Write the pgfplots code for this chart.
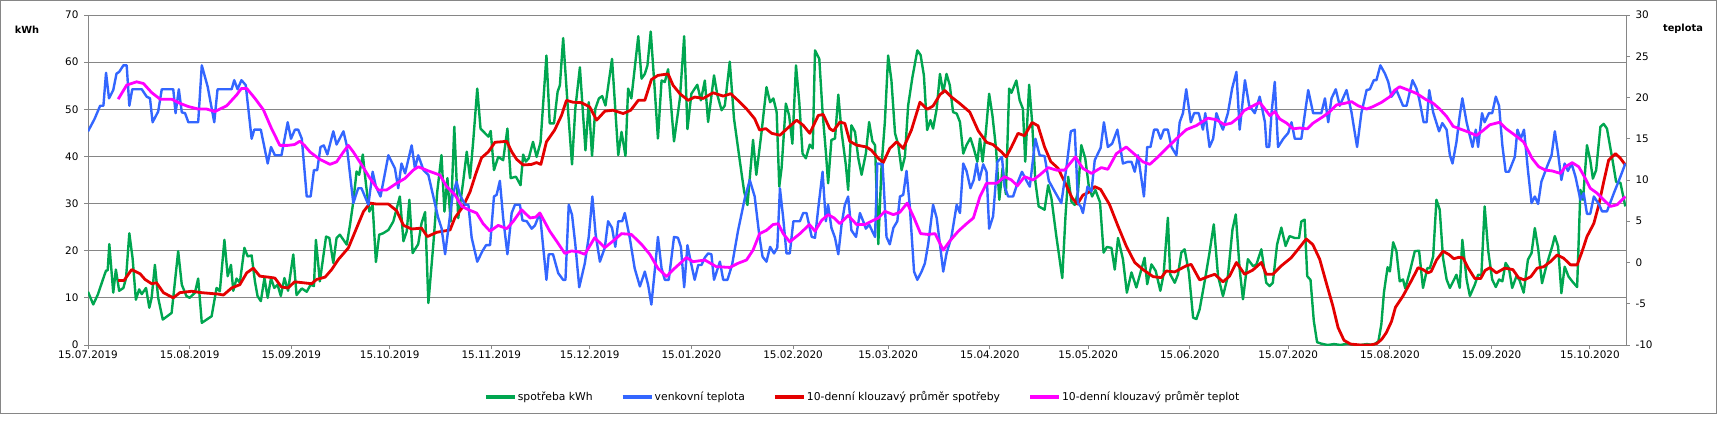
\documentclass[border=0pt]{standalone}
\usepackage{fontspec}
\setmainfont{DejaVu Sans}
\usepackage{pgfplots}
\pgfplotsset{compat=1.18}
\definecolor{cgreen}{RGB}{0,166,80}
\definecolor{cblue}{RGB}{51,102,255}
\definecolor{cred}{RGB}{228,0,0}
\definecolor{cmag}{RGB}{255,0,255}
\definecolor{cgrid}{RGB}{134,134,134}
\begin{document}
\begin{tikzpicture}
\useasboundingbox (0pt,0pt) rectangle (1719pt,421pt);
\draw[cgrid, line width=1pt] (0.5pt,7.5pt) rectangle (1716pt,420.5pt);
\node[font=\bfseries\fontsize{9.8}{12}\selectfont] at (27pt,391pt) {kWh};
\node[font=\bfseries\fontsize{9.8}{12}\selectfont] at (1683pt,392pt) {teplota};
\begin{axis}[
  at={(88pt,76pt)}, anchor=south west, scale only axis,
  width=1538pt, height=330pt,
  xmin=0, xmax=469, ymin=0, ymax=70,
  ytick={0,10,...,70},
  xtick={0,31,62,92,123,153,184,215,244,275,305,336,366,397,428,458},
  xticklabels={15.07.2019,15.08.2019,15.09.2019,15.10.2019,15.11.2019,15.12.2019,15.01.2020,15.02.2020,15.03.2020,15.04.2020,15.05.2020,15.06.2020,15.07.2020,15.08.2020,15.09.2020,15.10.2020},
  ymajorgrids, grid style={cgrid, line width=0.9pt},
  axis line style={cgrid, line width=0.9pt},
  tick style={cgrid, line width=0.9pt},
  major tick length=4pt, tick align=outside,
  xtick pos=bottom, ytick pos=left,
  tick label style={font=\fontsize{10.4}{12}\selectfont},
  yticklabel style={xshift=-2pt},
  xticklabel style={yshift=2pt},
  /pgf/number format/assume math mode=true,
  line join=round,
]
\addplot[cgreen, line width=2.4pt] coordinates {
(0,11.3) (1.6,8.6) (3,10.7) (4.7,14.2) (5.5,15.8) (6,15.8) (6.5,21.4) (7.7,11.1) (8.5,16) (9.5,11.5) (10.8,12.1) (11.6,14.2) (12.6,23.7) (13.6,18.4) (14.6,9.6) (15.6,11.8) (16.4,10.8) (17.7,12.1) (18.7,7.9) (19.4,10) (20.4,17) (21.4,10) (22.8,5.4) (25.5,6.8) (27.5,19.9) (28.6,12.8) (30,10.4) (31,10) (32.6,11.1) (33.6,14.1) (34.7,4.7) (37.7,6.1) (39.2,12.1) (40.2,11.4) (41.6,22.3) (42.6,14.6) (43.6,17) (44.3,11.5) (45.3,14.1) (46.3,13.2) (47.7,20.6) (48.7,18.8) (49.9,19) (50.9,13.5) (51.7,10.4) (52.7,9.3) (53.8,14.2) (54.8,10) (55.8,14.2) (56.8,12.1) (57.8,12.8) (58.8,10.4) (59.9,14.2) (61,11.5) (62.6,19.2) (63.6,10.6) (65.2,12) (66.7,11.3) (67.9,12.8) (68.9,12.5) (69.5,22.3) (70.7,13.5) (72.6,23) (73.6,22.7) (74.8,17.4) (75.8,22.7) (76.8,23.4) (78.9,21.3) (79.9,25.5) (80.9,30.4) (81.9,36.8) (82.7,36.1) (83.8,40.4) (84.8,33.9) (85.8,28.3) (86.8,29.7) (87.8,17.6) (88.8,23.4) (90,23.7) (91.6,24.4) (93.1,26.2) (95.1,31.5) (96.2,22) (97.2,24.1) (98,30.8) (99,19.5) (100.7,21.4) (101.7,25.8) (102.8,28.2) (103.8,8.9) (105.3,21.3) (106.5,32.5) (107.8,40.3) (108.7,28.3) (109.6,35.4) (110.6,26.2) (111.7,46.3) (112.9,26.9) (114.4,34.6) (115.5,41) (116.5,35.4) (117.5,43.5) (118.7,54.4) (119.7,45.9) (121.1,44.9) (122.1,44.2) (122.8,45.4) (123.8,37.1) (125.1,39.9) (126.6,39.2) (127.9,45.9) (128.9,35.4) (130.5,35.7) (131.9,33.9) (132.7,40.4) (133.5,38.9) (134.4,39.6) (135.7,43.1) (136.8,39.9) (138,43) (139.8,61.4) (140.8,47) (142.1,47) (143.2,53.7) (143.9,55.1) (144.9,65.1) (146.2,51.5) (147.6,38.3) (148.6,50.1) (150,58.9) (151.7,41.3) (152.7,51.5) (153.7,40.1) (154.7,50.1) (155.8,52.3) (156.8,52.8) (157.8,50.8) (159.8,60.7) (161.7,40.3) (162.7,45.2) (163.9,40.1) (164.7,54.4) (165.7,52.3) (167.8,65.5) (168.8,56.5) (169.8,57.5) (170.6,59.3) (171.6,66.5) (172.8,54.4) (173.8,43.8) (174.9,56.1) (175.9,55.8) (176.9,58.5) (178.7,43.2) (180.5,52.3) (181.8,65.5) (182.8,45.8) (184,53.3) (185.8,55.2) (186.9,51.9) (188.1,56.1) (189.1,47.3) (190.9,57.2) (191.9,53.1) (193.2,49.8) (194.2,50.8) (195.7,60.1) (197,48) (198.8,38.9) (200.1,32.5) (201.1,29.7) (201.8,35.4) (202.8,43.5) (203.8,36.1) (205.4,45.2) (206.9,54.7) (208,51.5) (209,52.3) (210,49.4) (210.8,33.6) (211.5,37.5) (212.8,51.2) (213.8,48.7) (214.8,42.7) (215.9,59.3) (216.9,51.5) (217.9,40.6) (218.9,39.6) (220.1,42.5) (221,41.7) (221.7,62.5) (223,60.7) (224,49.4) (225,41) (225.7,34.3) (226.7,43.5) (227.8,43.8) (228.8,53.1) (229.8,45.2) (231.1,38.2) (231.8,32.9) (232.8,46.6) (233.9,45.2) (234.9,39.6) (235.9,36.1) (237.2,40.6) (238.2,47.3) (239.2,43.2) (240,42.4) (241,21.4) (242,38.2) (243,47.3) (244,61.4) (245,56.1) (246.1,44.9) (247.1,42.4) (248.1,37.1) (249.1,39.9) (250.1,50.8) (251.4,56.8) (252.9,62.5) (253.9,61.5) (254.9,57.2) (255.9,45.6) (256.9,47.7) (257.7,45.9) (258.8,50.1) (259.8,57.5) (260.8,53.5) (261.8,57.5) (262.8,55.1) (263.8,49.4) (264.9,49.1) (265.9,47.3) (266.9,40.6) (267.9,42.4) (269.1,43.9) (270.1,41.7) (271.2,38.9) (272,43.8) (272.8,38.9) (273.8,45.2) (274.8,53.3) (275.8,48.7) (276.9,41.7) (277.9,30.8) (278.9,37.5) (279.9,32) (280.9,54.4) (281.6,53.5) (283.1,56.1) (284.1,51.9) (285.1,50.1) (285.8,38.9) (287,55.2) (287.9,47.3) (288.9,34.6) (289.9,29.4) (291.7,28.7) (292.8,33.9) (293.8,31.1) (295.3,23) (297.1,14.2) (298.1,27.6) (298.9,35.7) (299.9,30.4) (300.9,29.7) (301.9,32.5) (302.9,42.4) (304.1,39.6) (305.2,33.6) (306.2,31.5) (307.2,32.9) (308.6,30.3) (309.7,19.6) (310.7,20.8) (312.1,20.6) (313.1,16) (314.1,22.7) (315.6,18.2) (316.8,11.1) (318.2,15.4) (319.7,12.2) (321.2,16) (322.2,18.5) (323,12.9) (324.3,17.1) (325.6,15.7) (327,11.5) (328,15) (329.3,27) (330,15) (331.4,13.2) (332.4,15) (333.4,19.6) (334.4,20.3) (335.7,15.4) (337,5.8) (338,5.5) (339,7.6) (340.8,14.6) (342,19.6) (343.3,25.6) (344.6,14.6) (346.1,10.4) (347.6,14.6) (349,24.5) (350,27.7) (351.2,16) (352.2,9.7) (353.7,18.2) (355.3,16.7) (356.3,17.1) (357.8,20.3) (359.3,13.2) (360.3,12.5) (361.3,13.2) (362.6,21.3) (363.9,24.9) (365.2,21) (366.4,23.1) (368,22.7) (369.3,22.7) (370,26.2) (371,26.6) (371.8,14.6) (372.8,13.8) (373.8,5.1) (374.8,0.6) (376,0.3) (378,0) (380,0.2) (382,0) (384,0.3) (386,0) (388,0) (390,0.2) (392,0) (393.5,0.8) (394.4,4.4) (395.2,11.2) (396.3,16.5) (397,15.6) (398,21.8) (399,19.9) (400,13.5) (401,13.9) (401.7,12) (403.1,15.6) (404.6,19.9) (405.9,20) (407.1,12.1) (408.4,16.3) (409.2,16.3) (410.2,18.8) (411.2,30.8) (412.2,28.7) (413.2,18.5) (414.3,13.9) (415.3,12.1) (416.3,13.5) (417.3,14.9) (418.3,12.1) (419.1,22.3) (420.4,13.9) (421.4,10.4) (422.9,12.8) (423.9,14.9) (424.9,14.8) (425.9,29.4) (427,19.9) (428.2,13.9) (429.3,12.3) (430.3,13.9) (431.3,13.5) (432.3,17.4) (433.3,16.3) (434.3,12.1) (435.6,14.6) (436.5,13.8) (437.8,11.1) (439.1,18.1) (440.2,19.5) (441.2,24.8) (442.2,20.5) (443.4,13.1) (444.4,15.9) (445.4,18.4) (446.5,20.9) (447.3,23.1) (448.3,20.9) (449.3,11) (450.3,16.6) (451.5,14.5) (452.6,13.5) (454.1,12.3) (455.1,32.9) (455.9,30.8) (457.1,42.4) (458.1,39.2) (458.9,35.3) (459.9,37.1) (461.2,46.3) (462.2,46.9) (463.2,45.9) (464.8,39.6) (466,34.6) (467.3,34.4) (468.8,29.4)
};
\addplot[cred, line width=2.8pt] coordinates {
(9.2,13.7) (11,13.7) (13.3,16) (15.9,15.1) (17.4,13.9) (19.4,13) (20.9,13.2) (23,11.1) (26,10) (28,11.1) (31.6,11.4) (34.7,11.1) (39.7,10.8) (41.3,10.6) (43.8,12.1) (46.3,12.8) (48.4,15.3) (50.4,16.3) (52.4,14.6) (55,14.4) (57,14.2) (59,12.3) (61,12.1) (63,13.4) (65.7,13.2) (68.2,13) (69.7,13.9) (72.3,14.4) (74.3,16) (76.3,18.1) (79.4,20.6) (81.9,24.8) (84,28.3) (86,30.1) (88,29.9) (91.6,29.9) (94.1,28.5) (96.2,25.4) (98.7,24.6) (101.7,24.8) (103.5,23) (106.3,23.9) (110.4,24.4) (111.9,27) (114.4,29.4) (116.5,32.5) (118.3,36.4) (120,39.7) (122.1,41) (124.1,43) (127.7,43.2) (129.2,41) (130.7,39.4) (132.7,38.2) (135.2,38.3) (136.8,38.7) (138.1,38.3) (139.8,43.1) (142.3,45.6) (144.4,48.7) (145.9,51.9) (147.9,51.5) (150.5,51.4) (153,50.5) (155.1,47.7) (157.6,49.6) (160.1,49.8) (163.2,49.1) (165.5,49.8) (167.8,51.9) (169.8,51.9) (171.8,56.3) (173.8,57.2) (176.9,57.5) (178.4,55.1) (180.5,53.3) (183,51.9) (185,52.6) (187.6,52.3) (190.6,53.5) (193.7,52.8) (196,53.3) (198.8,51.5) (200.8,50.1) (203.3,48) (204.8,45.6) (206.7,45.9) (208.5,44.9) (211,44.5) (213.5,46.1) (216.1,47.7) (218.1,46.6) (220.1,44.9) (222.7,48.7) (224.2,48.9) (226.2,45.9) (227.3,45.4) (229.3,47.3) (230.8,47) (232.3,43.2) (234.4,42.4) (237.4,42) (238.9,41.3) (241,39.6) (242.5,38.7) (244.5,41.7) (246.6,43.1) (248.6,41.7) (251.1,45.6) (253.7,51.5) (255.9,50) (257.7,50.7) (259.8,53.1) (261.3,54) (263.3,52.6) (265.9,51.2) (268.9,49.4) (271.5,45.4) (274,43) (276,42.5) (278.5,41) (280,39.9) (281.6,42) (283.6,44.9) (285.6,44.4) (287.9,47.2) (289.7,46.5) (291.7,42) (293.6,38.9) (295.8,37.5) (298.3,33.9) (300.1,31.2) (301.7,29.9) (303.4,31.8) (305.2,32.4) (307,33.6) (308.8,33) (311.5,29.8) (314.1,25.2) (316.6,21) (319.2,17.5) (321.7,16) (324.8,14.5) (327.3,14.3) (328.8,15.7) (331.4,15.5) (334.9,16.8) (336.4,17.1) (339,13.8) (341.5,14.5) (343.6,15) (346.1,13.4) (348.1,14.6) (350.2,17.5) (352.7,15) (355.2,15.9) (357.8,17.5) (359.3,15) (361.3,15) (363.9,16.8) (366.9,18.5) (369,20.3) (371.5,22.5) (373.5,21.3) (375.6,18.2) (377.6,13.2) (379.6,8.3) (381.2,3.7) (383,1) (385,0.2) (388,0) (391,0) (393,0.3) (394.5,1.2) (395.9,2.6) (397.5,5) (398.7,8) (401,10.4) (403.6,13.7) (405.6,16.4) (407.1,16) (408.6,15.3) (409.6,15.6) (411.2,18) (413.2,19.9) (415,19.2) (416.5,18.3) (418,18.6) (419.3,18.5) (420.9,16.3) (422.9,14.1) (424.7,14.1) (426,15.8) (427.5,16.4) (429.5,15.3) (432,16.3) (434.5,16) (436.2,14.3) (438,13.8) (440,14.5) (441.9,16.3) (443.9,16.6) (446,17.7) (448,19.1) (450,18.4) (452.1,17) (454.1,17) (455.6,19.8) (457.1,23) (459.2,25.8) (460.7,29.7) (462.2,34.6) (463.7,39.2) (465.8,40.6) (467.3,39.6) (468.8,38.2)
};
\end{axis}
\begin{axis}[
  at={(88pt,76pt)}, anchor=south west, scale only axis,
  width=1538pt, height=330pt,
  xmin=0, xmax=469, ymin=-10, ymax=30,
  ytick={-10,-5,...,30},
  axis x line=none, axis y line*=right,
  axis line style={cgrid, line width=0.9pt},
  tick style={cgrid, line width=0.9pt},
  major tick length=4pt, tick align=outside,
  tick label style={font=\fontsize{10.4}{12}\selectfont},
  yticklabel style={xshift=2pt},
  /pgf/number format/assume math mode=true,
  line join=round,
  legend columns=4,
  legend style={at={(0.5033,-0.1576)}, anchor=center, draw=none, fill=none,
    font=\fontsize{10.8}{13}\selectfont, nodes={inner sep=1pt},
    /tikz/every even column/.append style={column sep=27pt}},
  legend cell align=left,
  legend image code/.code={\draw[#1, line width=4pt] (0pt,0pt) -- (29pt,0pt);},
]
\addlegendimage{cgreen}
\addlegendentry{spotřeba kWh}
\addplot[cblue, line width=2.4pt] coordinates {
(0,15.9) (2,17.4) (3.7,19) (4.7,19) (5.5,23) (6.4,19.9) (7.7,20.9) (8.7,22.9) (9.5,23.1) (10.8,23.9) (11.8,23.9) (12.6,19) (13.5,21) (16.4,21) (17.9,20.1) (18.9,19.9) (19.7,17) (21.4,18.3) (22.5,21) (26,21) (26.7,18.1) (27.7,21) (28.6,18.2) (29.6,18.1) (30.6,17) (33.6,17) (34.7,23.9) (36.5,21.3) (38.5,17) (39.5,21) (43.8,21) (44.6,22.1) (45.6,21) (46.8,22.1) (48.1,21.5) (49.9,15) (50.7,16.1) (52.7,16.1) (54.8,12) (55.8,14) (57,13) (59,13) (60.9,17) (61.9,15) (63.1,16.1) (64.1,16.1) (65.2,15) (66.7,8) (67.9,8) (68.9,11.2) (69.9,11.2) (70.9,14) (71.9,14.2) (73,13.1) (74.8,15.9) (75.8,14.3) (77.9,15.9) (78.9,14.2) (80.9,7.2) (82.4,9) (83.4,9) (85.5,7) (86.8,11) (87.8,9.2) (89.2,8) (91.6,13) (93.6,11.4) (94.6,9) (95.6,12) (96.7,10.8) (98.7,14.2) (99.7,11.4) (100.7,13) (102.3,11.2) (103.8,10.6) (105.3,8) (106.8,5.4) (107.8,4.2) (108.9,1) (110.2,5.1) (111.2,8.2) (112.4,9.8) (113.4,8.2) (115,7) (116,7) (117,3) (118.7,0.1) (120.3,1.4) (121.4,2.1) (122.6,2.1) (123.8,8) (124.6,8.2) (125.6,9.9) (126.6,5.4) (127.9,1) (129.2,6) (130.2,7) (131.7,7) (132.5,5.1) (133.8,5) (135.3,4.1) (136.3,4.5) (137.8,6) (138.8,1.9) (139.8,-2.1) (140.5,1) (141.8,1) (143.4,-1.3) (144.9,-2.1) (145.6,-2.1) (146.6,7) (147.6,5.8) (148.6,2.2) (149.8,-3) (151.5,-0.1) (152.7,3.1) (153.8,8) (154.8,3.4) (156.1,0.1) (157.6,1.8) (158.6,5) (159.8,4.2) (160.8,1.9) (161.7,5) (162.9,5) (163.7,6) (165.2,3) (166.7,-0.7) (168.3,-2.9) (169.8,-1.1) (170.8,-2.7) (171.8,-5.1) (173,-0.3) (173.8,3.1) (174.9,-0.7) (175.9,-2.1) (177.1,-2.1) (178.7,3.1) (179.9,3) (180.8,1.9) (181.8,-3) (182.8,2.1) (183.8,0.1) (185,-2.1) (186.1,-0.3) (187.1,-0.3) (188.1,0.6) (189.1,1.1) (190.1,1) (190.9,-2.1) (192.7,0.1) (193.7,-2.1) (195,-2.1) (196.4,-0.3) (198.2,3.8) (200.3,7.8) (201.8,10) (203.3,8) (204.8,3) (205.7,0.7) (206.9,0.1) (208,1.9) (209.2,1.1) (210.2,1.8) (211,9) (212,5.4) (213,1.1) (214,1.1) (215.1,5) (217.1,5) (218.1,6) (219.1,6) (220.7,3.1) (221.7,3) (222.7,6.6) (224,11) (225,5) (225.7,7) (226.7,4.2) (227.8,3) (228.8,1) (229.8,4.6) (230.8,7) (231.8,8) (232.8,3.9) (234.2,3.1) (235.4,6) (236.4,5) (237.2,4.1) (238.2,4.6) (240,3.1) (240.7,12) (242.3,11.9) (243.5,3.1) (244.5,2.2) (245.6,4.2) (246.8,5) (247.6,8) (248.6,8.2) (249.6,11.1) (250.6,6.8) (251.9,-1.1) (252.9,-2.1) (254.2,-1.1) (255.2,-0.1) (256.2,2.2) (257.7,7) (258.8,5.4) (259.8,2.2) (260.8,-1.1) (261.8,1.1) (263.3,3.1) (264.9,7) (265.9,6) (266.9,12) (267.9,11.1) (269.1,9) (270.1,10) (271,12) (271.8,10) (273,11.9) (274,11) (274.8,4.1) (276,5.6) (277.3,12.2) (278.7,12.8) (279.5,9.2) (280.6,8) (282.1,8) (283.6,9.8) (284.8,11) (286.2,9.9) (287.2,9.2) (288.9,15) (290.2,13) (291.7,12.9) (293,9.9) (294.8,8.6) (296.8,7.2) (298.4,11.6) (299.7,15.9) (300.9,16.1) (301.9,7.2) (302.7,6.8) (303.4,6) (304.8,9.2) (306,8.6) (307,12.4) (308.8,13.9) (309.8,17) (311,14) (312.3,14.4) (313.9,16.1) (315.6,12) (317.1,12.2) (318.2,12.2) (319.2,11) (320.2,13) (322,8) (323,14) (324,14) (325.1,16.1) (326.1,16.1) (327.1,15) (328.1,16.1) (329.3,16.1) (330.4,14) (331.9,13) (332.9,17) (333.9,18.1) (334.9,21) (336.3,17) (337.3,18.1) (338.7,18.1) (340,16.1) (340.7,18.1) (342,14) (343.1,15) (344.1,18.1) (345.1,17) (346.1,16.1) (347.6,18.1) (348.9,21.1) (350.2,23.1) (351.2,16.1) (352.8,22.1) (354.1,19) (355.8,18.1) (357.3,20.1) (358.9,17) (359.4,14) (360.2,14) (360.9,18.1) (361.9,21.9) (362.9,14) (364.5,15) (366,15.7) (367,17) (368,15) (370,15) (372.1,20.9) (373.6,18.1) (376.1,18.1) (377.2,19.9) (378.2,17) (379.2,19.9) (380.5,21) (381.7,19) (383.8,20.9) (385.3,18.2) (387,14) (388.3,18.1) (389.9,20.9) (390.9,21) (392.1,22.1) (392.9,22.1) (394.1,23.9) (395.5,22.9) (396.5,21.9) (397.5,20.1) (399,20.9) (401,19) (402.1,19) (403.9,22.1) (405.1,21.1) (405.9,19.9) (407.3,17) (408.2,17) (409,20.9) (410.2,18.2) (412,15.9) (413,16.9) (414.3,16.1) (415.3,13) (416.1,12) (417.3,14.6) (418.3,17.8) (419.1,19.9) (420.4,17) (422.2,14) (423.2,16.1) (423.9,14) (425.1,18.1) (425.9,17) (427.2,18.1) (428.2,18.1) (429.3,20.1) (430.3,19) (431.3,14.2) (432.3,11) (433.3,11) (435.1,12.8) (435.9,16.1) (436.9,15) (437.9,16.1) (439.1,11.2) (440.2,7.2) (441.2,8) (442.2,7.1) (443.2,9.8) (444.9,11.6) (446.3,13) (447.3,15.9) (448.3,13.2) (449.3,10) (450.3,12) (451.3,11.1) (452.4,12) (453.6,10.4) (455.1,7.6) (456.1,8.4) (457.1,5.9) (458.1,5.9) (459.2,8) (460.7,7.1) (461.7,6.2) (463.2,6.2) (465.3,8.4) (467.3,10.4) (468.8,12)
};
\addlegendentry{venkovní teplota}
\addlegendimage{cred}
\addlegendentry{10-denní klouzavý průměr spotřeby}
\addplot[cmag, line width=2.8pt] coordinates {
(9.2,19.8) (11.8,21.5) (14.8,21.9) (16.9,21.7) (19.4,20.6) (22,19.8) (25.5,19.8) (28,19.3) (30.6,18.9) (33.6,18.6) (36.2,18.6) (38.7,18.3) (42.3,19) (45.3,20.3) (46.8,21.1) (48.4,21.1) (50.9,19.9) (53.5,18.5) (56,16.2) (58.5,14.2) (61,14.2) (63,14.3) (64.6,14.7) (66,14.2) (67.7,13.4) (70.7,12.5) (73.8,11.9) (75.8,12.2) (77.9,13.4) (79.4,14.2) (80.9,13.4) (83.5,11.8) (86,10.2) (88.5,8.8) (91.1,8.8) (94.1,9.6) (96.7,10.2) (99.2,11.2) (100.7,11.6) (103.8,11.1) (107.3,10.6) (109.4,9.2) (111.9,8.2) (114,6.8) (116,6.4) (118.5,6) (120.5,4.7) (122.6,3.8) (125.1,4.5) (127.7,4.1) (129.7,5) (132.2,6.4) (134.8,5.4) (136.5,5.5) (137.8,6) (140.8,3.8) (143.4,2.3) (145.4,1.1) (147.4,1.4) (149.5,1.3) (151.5,1) (154.5,3) (157.6,1.8) (160.1,2.6) (162.7,3.5) (165.7,3.4) (168.8,2.2) (171.3,1) (173.8,-0.7) (176.4,-1.7) (178.9,-0.7) (182.5,0.6) (184.5,0.1) (188.1,0.3) (191.6,-0.5) (195.7,-0.6) (198.2,-0.1) (200.8,0.3) (202.8,1.5) (204.8,3.5) (206.9,3.9) (208.9,4.6) (210.5,4.7) (212,3.5) (214,2.5) (217.1,3.5) (220,4.6) (221.7,3.8) (223.7,5.1) (225.7,5.8) (227.5,5.4) (229.3,4.7) (231.8,5.7) (234.4,4.6) (236.9,4.6) (238.9,5) (241,5.4) (243,6.2) (245.6,5.8) (247.6,6.1) (249.8,7.2) (251.9,5.4) (253.9,3.5) (256.2,3.4) (258.3,3.5) (260.8,1.5) (262.8,2.6) (265.4,3.8) (267.9,4.7) (270,5.4) (272,8) (274,9.6) (277.1,9.6) (279.5,10.4) (281.6,10) (283.4,9.3) (285.6,10.4) (288.2,10) (290.2,10.6) (292.8,11.5) (295.3,11.2) (297.8,11.2) (301.1,12.8) (303.4,11.4) (306,10.8) (309,11.5) (311,11.3) (313.6,13.2) (316.6,14) (319.2,13.1) (321.7,12.2) (323.8,11.9) (326.3,12.8) (328.8,13.8) (331.9,15) (334.9,16.1) (338,16.6) (341.5,17.5) (344.1,17.3) (346.6,16.7) (348.7,16.9) (351.2,17.7) (352.5,18.4) (355.3,19) (357.3,19.4) (358.9,18.6) (360.4,17.8) (361.9,18.3) (363.4,17.4) (365.5,16.9) (367.5,16.2) (369.5,16.3) (371.8,16.2) (373.6,16.9) (376.7,17.7) (378.7,18.3) (380.7,19.1) (383.3,19.3) (385.3,19.5) (387.3,19) (389.9,18.6) (391.9,18.9) (394.4,19.4) (397,20.1) (398.5,20.9) (400,21.3) (402.6,20.9) (405.1,20.5) (408.2,19.7) (410.2,19.3) (412.2,18.6) (414.3,17.7) (416.3,16.5) (418.3,16.2) (420.4,15.9) (423.4,15.4) (425.4,16) (427.5,16.7) (430.5,17) (432.5,16.2) (435.6,15.3) (437.8,14.6) (440.4,12.6) (442.4,11.6) (444.4,11.2) (446.5,11.1) (449,10.8) (450.5,11.6) (452.6,12.1) (454.6,11.6) (456.6,10.2) (458.1,9) (460.2,8.4) (462.2,7.6) (464.3,6.8) (466.3,7) (468.8,8)
};
\addlegendentry{10-denní klouzavý průměr teplot}
\end{axis}
\end{tikzpicture}
\end{document}
